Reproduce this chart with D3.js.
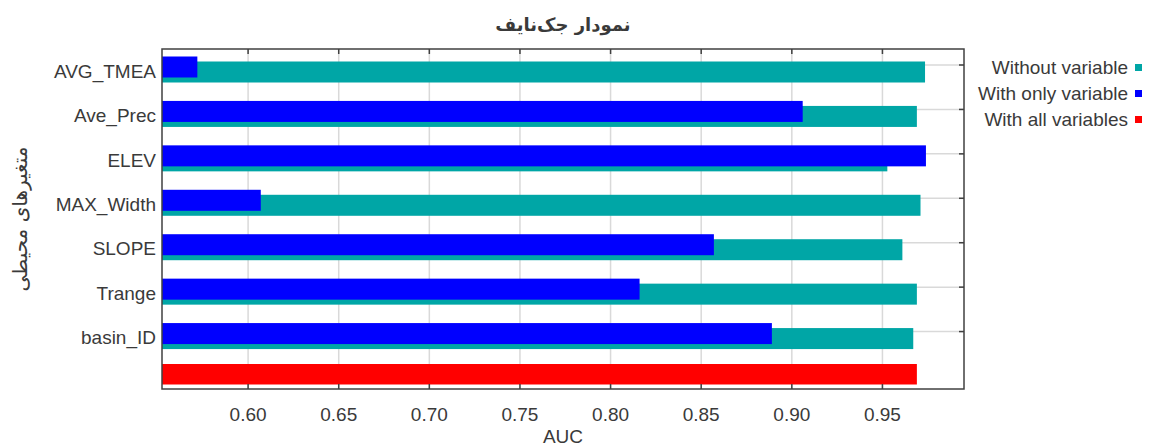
<!DOCTYPE html>
<meta charset="utf-8">
<style>
    body { margin: 0; background: #fff; }
    text { font-family: "Liberation Sans", Arial, "DejaVu Sans", sans-serif; fill: #3a3a3a; }
    .grid line { stroke: #d9d9d9; stroke-width: 1.5; }
    .frame { fill: none; stroke: #404040; stroke-width: 1.5; }
</style>
<svg width="1149" height="448"></svg>

<script src="https://d3js.org/d3.v7.min.js"></script>
<script>
    // chart data
    var variables = ["AVG_TMEA", "Ave_Prec", "ELEV", "MAX_Width", "SLOPE", "Trange", "basin_ID"];
    var withoutVariable = [0.9735, 0.969, 0.9527, 0.971, 0.961, 0.969, 0.967];
    var withOnlyVariable = [0.572, 0.906, 0.974, 0.607, 0.857, 0.816, 0.889];
    var withAllVariables = 0.969;
    var xTicks = [0.60, 0.65, 0.70, 0.75, 0.80, 0.85, 0.90, 0.95];
    var legendLabels = ["Without variable", "With only variable", "With all variables"];
    var colors = ["#00a6a6", "#0000ff", "#ff0000"];

    var svg = d3.select("svg"),
        plotLeft = 162, plotRight = 964, plotTop = 49, plotBottom = 389;

    var rows = variables.concat([""]);
    var x = d3.scaleLinear().domain([0.5525, 0.995]).range([plotLeft, plotRight]);
    var y = d3.scalePoint().domain(d3.range(rows.length)).range([plotTop + 16, plotBottom - 13]);

    // grid
    var grid = svg.append("g").attr("class", "grid");
    grid.selectAll(".vx").data(xTicks).enter().append("line")
        .attr("x1", function(d) { return x(d); }).attr("x2", function(d) { return x(d); })
        .attr("y1", plotTop).attr("y2", plotBottom);
    grid.selectAll(".hy").data(d3.range(rows.length - 1)).enter().append("line")
        .attr("x1", plotLeft).attr("x2", plotRight)
        .attr("y1", function(d) { return y(d); }).attr("y2", function(d) { return y(d); });

    // bars
    var bars = svg.append("g");
    bars.selectAll(".without").data(withoutVariable).enter().append("rect")
        .attr("x", x.range()[0])
        .attr("y", function(d, i) { return y(i) - 3.5; })
        .attr("width", function(d) { return x(d) - x.range()[0]; })
        .attr("height", 21)
        .attr("fill", colors[0]);
    bars.selectAll(".only").data(withOnlyVariable).enter().append("rect")
        .attr("x", x.range()[0])
        .attr("y", function(d, i) { return y(i) - 8.5; })
        .attr("width", function(d) { return x(d) - x.range()[0]; })
        .attr("height", 21)
        .attr("fill", colors[1]);
    bars.append("rect")
        .attr("x", x.range()[0])
        .attr("y", y(rows.length - 1) - 12)
        .attr("width", x(withAllVariables) - x.range()[0])
        .attr("height", 20.5)
        .attr("fill", colors[2]);

    // frame and inward ticks
    svg.append("rect").attr("class", "frame")
        .attr("x", plotLeft).attr("y", plotTop).attr("width", plotRight - plotLeft).attr("height", plotBottom - plotTop);
    var ticks = svg.append("g").attr("stroke", "#404040").attr("stroke-width", 1.5);
    xTicks.forEach(function(t) {
        ticks.append("line").attr("x1", x(t)).attr("x2", x(t)).attr("y1", plotBottom).attr("y2", plotBottom - 5);
        ticks.append("line").attr("x1", x(t)).attr("x2", x(t)).attr("y1", plotTop).attr("y2", plotTop + 5);
    });
    d3.range(rows.length - 1).forEach(function(i) {
        ticks.append("line").attr("x1", plotRight).attr("x2", plotRight - 5).attr("y1", y(i)).attr("y2", y(i));
    });

    // tick labels
    svg.append("g").selectAll("text").data(xTicks).enter().append("text")
        .attr("x", function(d) { return x(d); })
        .attr("y", 421)
        .attr("text-anchor", "middle")
        .style("font-size", "19px")
        .text(function(d) { return d.toFixed(2); });
    svg.append("g").selectAll("text").data(variables).enter().append("text")
        .attr("x", plotLeft - 6)
        .attr("y", function(d, i) { return y(i) + 6; })
        .attr("dy", "0.35em")
        .attr("text-anchor", "end")
        .style("font-size", "19px")
        .text(function(d) { return d; });

    // titles
    svg.append("text")
        .attr("x", (plotLeft + plotRight) / 2).attr("y", 25).attr("dy", "0.35em")
        .attr("text-anchor", "middle")
        .style("font-family", "'DejaVu Sans', sans-serif")
        .style("font-size", "18px").style("font-weight", "bold")
        .text("نمودار جک‌نایف");
    svg.append("text")
        .attr("x", (plotLeft + plotRight) / 2).attr("y", 443)
        .attr("text-anchor", "middle")
        .style("font-size", "19px")
        .text("AUC");
    svg.append("text")
        .attr("transform", "translate(20," + (plotTop + plotBottom) / 2 + ") rotate(-90)")
        .attr("dy", "0.35em")
        .attr("text-anchor", "middle")
        .style("font-family", "'DejaVu Sans', sans-serif")
        .style("font-size", "20px")
        .text("متغیرهای محیطی");

    // legend
    var legend = svg.append("g").selectAll("g").data(legendLabels).enter().append("g")
        .attr("transform", function(d, i) { return "translate(0," + (67 + i * 26) + ")"; });
    legend.append("text")
        .attr("x", 1128).attr("dy", "0.35em")
        .attr("text-anchor", "end")
        .style("font-size", "19px")
        .text(function(d) { return d; });
    legend.append("rect")
        .attr("x", 1135).attr("y", -3).attr("width", 7).attr("height", 7)
        .attr("fill", function(d, i) { return colors[i]; });
</script>
